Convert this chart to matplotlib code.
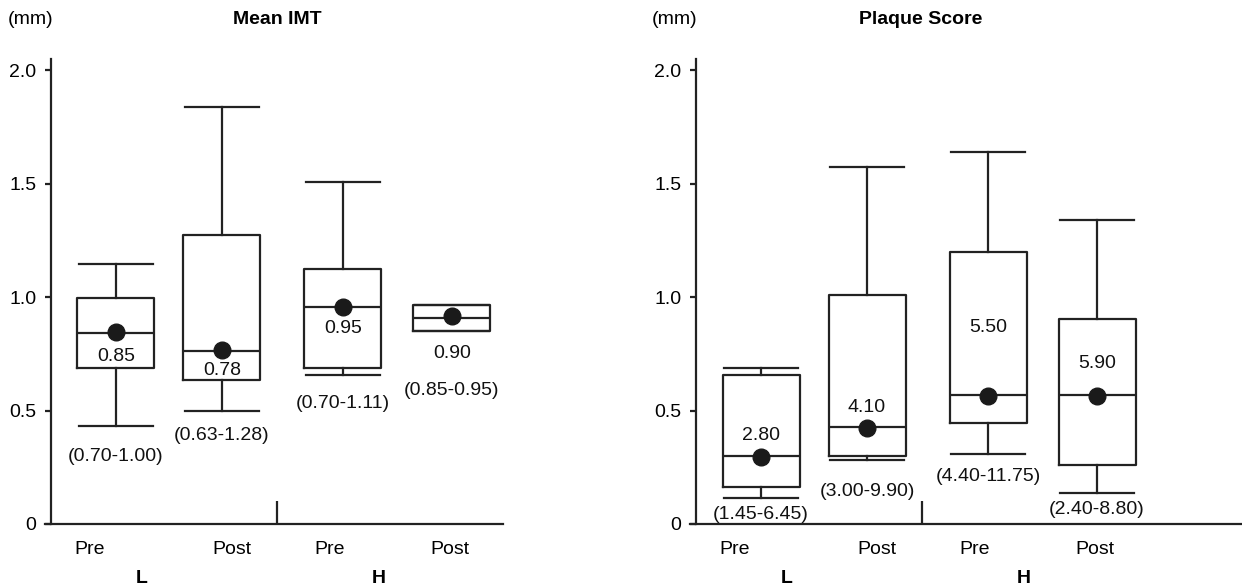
import matplotlib
matplotlib.use("Agg")
import matplotlib.pyplot as plt
from matplotlib import font_manager

names = {f.name for f in font_manager.fontManager.ttflist}
FAM = 'Liberation Sans Narrow' if 'Liberation Sans Narrow' in names else 'Liberation Sans'
plt.rcParams['font.family'] = [FAM, 'DejaVu Sans']

# ---------------- data ----------------
groups = ["Pre", "Post", "Pre", "Post"]
cohorts = ["L", "H"]

imt_whislo = [0.433, 0.498, 0.658, 0.850]
imt_q1     = [0.687, 0.636, 0.687, 0.850]
imt_med    = [0.843, 0.764, 0.954, 0.909]
imt_q3     = [0.995, 1.272, 1.122, 0.965]
imt_whishi = [1.145, 1.835, 1.508, 0.965]
imt_mean   = [0.845, 0.767, 0.957, 0.918]
imt_mean_labels  = ["0.85", "0.78", "0.95", "0.90"]
imt_range_labels = ["(0.70-1.00)", "(0.63-1.28)", "(0.70-1.11)", "(0.85-0.95)"]

ps_whislo = [0.113, 0.280, 0.308, 0.135]
ps_q1     = [0.162, 0.298, 0.444, 0.260]
ps_med    = [0.298, 0.429, 0.568, 0.568]
ps_q3     = [0.658, 1.009, 1.197, 0.905]
ps_whishi = [0.689, 1.574, 1.637, 1.340]
ps_mean   = [0.295, 0.424, 0.565, 0.565]
ps_mean_labels  = ["2.80", "4.10", "5.50", "5.90"]
ps_range_labels = ["(1.45-6.45)", "(3.00-9.90)", "(4.40-11.75)", "(2.40-8.80)"]

yticks = [0, 0.5, 1.0, 1.5, 2.0]
yticklabels = ["0", "0.5", "1.0", "1.5", "2.0"]

# ---------------- layout ----------------
positions = [1.0, 1.964, 3.064, 4.055]
group_label_x = [0.764, 2.055, 2.945, 4.036]
cohort_label_x = [1.234, 3.39]
divider_x = 2.464

imt_mean_label_y  = [0.736, 0.678, 0.862, 0.749]
imt_range_label_y = [0.296, 0.392, 0.529, 0.590]
ps_mean_label_y   = [0.388, 0.512, 0.865, 0.708]
ps_range_label_y  = [0.040, 0.142, 0.211, 0.062]

LC = "#222222"
LW = 1.6
FS = 16 if FAM.endswith('Narrow') else 14

W, H = 1242, 587
fig = plt.figure(figsize=(W / 100, H / 100), dpi=100)

y0_px, y2_px = 524, 70
unit = (y0_px - y2_px) / 2.0
ytop = 2.05
bottom = 1 - y0_px / H
height = ytop * unit / H


def panel(left_px, right_px, xright, whislo, q1, med, q3, whishi, mean,
          mlabels, mly, rlabels, rly, title, title_px):
    ax = fig.add_axes([left_px / W, bottom, (right_px - left_px) / W, height])
    stats = []
    for i in range(len(med)):
        stats.append(dict(whislo=whislo[i], q1=q1[i], med=med[i], q3=q3[i],
                          whishi=whishi[i], fliers=[]))
    ax.bxp(stats, positions=positions, widths=0.70, capwidths=0.67,
           showfliers=False, patch_artist=False,
           boxprops=dict(color=LC, linewidth=LW),
           medianprops=dict(color=LC, linewidth=LW),
           whiskerprops=dict(color=LC, linewidth=LW),
           capprops=dict(color=LC, linewidth=LW))
    ax.plot(positions, mean, linestyle="none", marker="o", markersize=12,
            color="#1a1a1a", zorder=5)
    for x, y, s in zip(positions, mly, mlabels):
        ax.text(x, y, s, ha="center", va="center", fontsize=FS, color="#111111")
    for x, y, s in zip(positions, rly, rlabels):
        ax.text(x, y, s, ha="center", va="center", fontsize=FS, color="#111111")
    ax.plot([divider_x, divider_x], [0, 0.1], color=LC, linewidth=LW,
            solid_capstyle="butt")

    ax.set_xlim(0.409, xright)
    ax.set_ylim(0, ytop)
    ax.set_yticks(yticks)
    ax.set_yticklabels(yticklabels, fontsize=FS)
    ax.tick_params(axis="y", direction="out", length=4.5, width=LW, color=LC,
                   pad=6)
    ax.set_xticks([])
    for s in ["top", "right"]:
        ax.spines[s].set_visible(False)
    for s in ["left", "bottom"]:
        ax.spines[s].set_color(LC)
        ax.spines[s].set_linewidth(LW)
    ax.spines["bottom"].set_bounds(0.409 - 0.055, xright)
    ax.spines["left"].set_bounds(0, ytop)
    trans = ax.get_xaxis_transform()
    for x, s in zip(group_label_x, groups):
        ax.annotate(s, xy=(x, 0), xycoords=trans, xytext=(0, -18.2),
                    textcoords="offset points", ha="center", va="center",
                    fontsize=FS, annotation_clip=False)
    for x, s in zip(cohort_label_x, cohorts):
        ax.annotate(s, xy=(x, 0), xycoords=trans, xytext=(0, -38.9),
                    textcoords="offset points", ha="center", va="center",
                    fontsize=FS, fontweight="bold", annotation_clip=False)
    fig.text(title_px / W, 1 - 20 / H, title, ha="center", va="center",
             fontsize=FS, fontweight="bold")
    return ax


panel(51, 503, 4.52, imt_whislo, imt_q1, imt_med, imt_q3, imt_whishi, imt_mean,
      imt_mean_labels, imt_mean_label_y, imt_range_labels, imt_range_label_y,
      "Mean IMT", 277)
panel(696, 1242, 5.373, ps_whislo, ps_q1, ps_med, ps_q3, ps_whishi, ps_mean,
      ps_mean_labels, ps_mean_label_y, ps_range_labels, ps_range_label_y,
      "Plaque Score", 921)

fig.text(30.7 / W, 1 - 20 / H, "(mm)", ha="center", va="center", fontsize=FS)
fig.text(675 / W, 1 - 20 / H, "(mm)", ha="center", va="center", fontsize=FS)

fig.savefig("out.png", dpi=100)
